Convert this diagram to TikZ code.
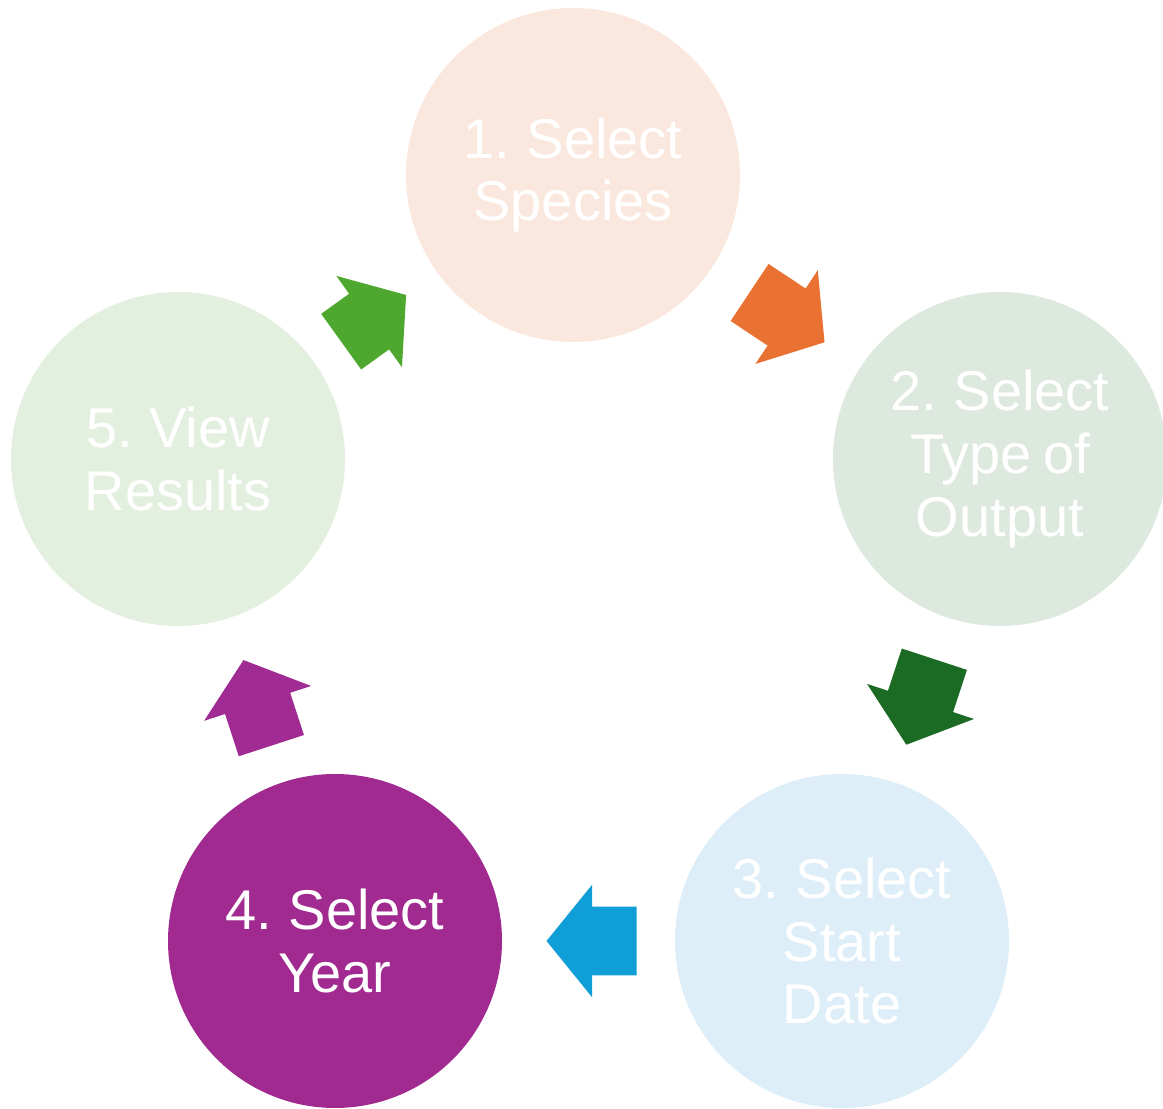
\documentclass[tikz,border=0pt]{standalone}
\usepackage{fontspec}
\setmainfont[WordSpace=0.75]{Liberation Sans}
\usetikzlibrary{calc}
\usetikzlibrary{shapes.arrows}

\definecolor{peachfill}{RGB}{250,232,223}
\definecolor{sagefill}{RGB}{221,232,222}
\definecolor{skyfill}{RGB}{221,238,248}
\definecolor{plumfill}{RGB}{160,42,143}
\definecolor{mintfill}{RGB}{227,240,224}
\definecolor{arrOrange}{RGB}{233,113,50}
\definecolor{arrForest}{RGB}{27,107,36}
\definecolor{arrBlue}{RGB}{15,158,213}
\definecolor{arrPlum}{RGB}{160,43,147}
\definecolor{arrGreen}{RGB}{78,167,46}

\begin{document}
\begin{tikzpicture}[x=0.75pt, y=0.75pt]
  \tikzset{stepcircle/.style={circle, minimum size=250.5pt, inner sep=0pt, text=white, align=center, font=\fontsize{42}{47}\selectfont}}
  \tikzset{cyclearrow/.style={single arrow, minimum height=67.5pt, minimum width=84pt, single arrow head extend=16.5pt, single arrow tip angle=102, inner xsep=0pt, inner ysep=25.5pt, sloped, allow upside down, anchor=tail}}
  \useasboundingbox (0,0) rectangle (1163,1109);

  \node[name = species, stepcircle, fill=peachfill] at (573,934) {1. Select\\Species};
  \node[name = output,  stepcircle, fill=sagefill]  at (1000,650) {2. Select\\Type of\\Output};
  \node[name = start,   stepcircle, fill=skyfill]   at (842,168) {3. Select\\Start\\Date};
  \node[name = year,    stepcircle, fill=plumfill]  at (335,168) {4. Select\\Year};
  \node[name = results, stepcircle, fill=mintfill]  at (178,650) {5. View\\Results};

  % block arrows, tail about a quarter of the way across each gap
  \path (species) -- (output)  node[pos=0.25, cyclearrow, fill=arrOrange]{};
  \path (output)  -- (start)   node[pos=0.25, cyclearrow, fill=arrForest]{};
  \path (start)   -- (year)    node[pos=0.22, cyclearrow, fill=arrBlue]{};
  \path (year)    -- (results) node[pos=0.22, cyclearrow, fill=arrPlum]{};
  \path (results) -- (species) node[pos=0.22, cyclearrow, fill=arrGreen, minimum height=60pt]{};
\end{tikzpicture}
\end{document}
